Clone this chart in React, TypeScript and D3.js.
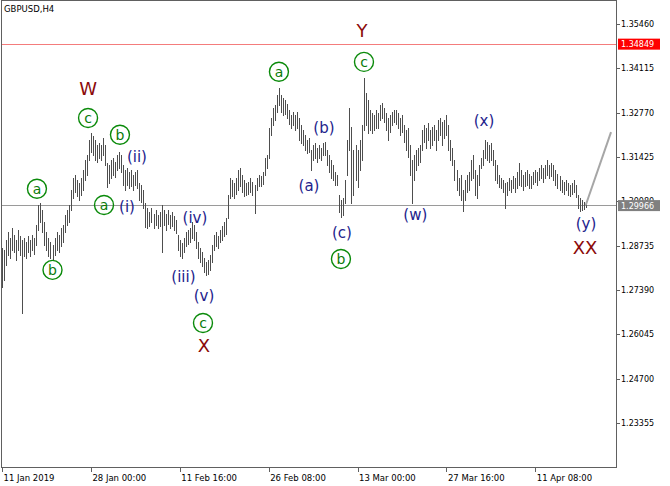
import React from "react";
import * as d3 from "d3";

// GBPUSD H4 bar highs / lows (one entry per bar, in chart order)
const highs = [
  1.2867,1.2860,1.2891,1.2915,1.2897,1.2927,1.2906,1.2891,1.2921,1.2903,
  1.2891,1.2897,1.2885,1.2903,1.2891,1.2906,1.2897,1.2936,1.2997,1.3003,
  1.2982,1.2945,1.2915,1.2897,1.2885,1.2876,1.2897,1.2915,1.2906,1.2927,
  1.2936,1.2967,1.2982,1.2997,1.3043,1.3079,1.3088,1.3073,1.3064,1.3079,
  1.3103,1.3134,1.3149,1.3194,1.3216,1.3206,1.3194,1.3179,1.3185,1.3179,
  1.3200,1.3179,1.3124,1.3118,1.3134,1.3140,1.3128,1.3149,1.3158,1.3149,
  1.3118,1.3103,1.3109,1.3097,1.3103,1.3088,1.3097,1.3103,1.3064,1.3058,
  1.3043,1.3003,1.2988,1.2976,1.2988,1.2970,1.2982,1.2967,1.2976,1.2997,
  1.2982,1.2970,1.2982,1.2967,1.2976,1.2964,1.2952,1.2906,1.2891,1.2882,
  1.2897,1.2915,1.2921,1.2927,1.2945,1.2936,1.2915,1.2885,1.2867,1.2854,
  1.2836,1.2824,1.2830,1.2845,1.2876,1.2906,1.2915,1.2903,1.2921,1.2933,
  1.2945,1.2958,1.3027,1.3079,1.3073,1.3064,1.3079,1.3103,1.3109,1.3088,
  1.3073,1.3064,1.3067,1.3079,1.3067,1.3058,1.3079,1.3088,1.3085,1.3097,
  1.3140,1.3149,1.3231,1.3261,1.3291,1.3300,1.3331,1.3352,1.3331,1.3322,
  1.3316,1.3303,1.3285,1.3270,1.3279,1.3270,1.3279,1.3261,1.3240,1.3225,
  1.3209,1.3194,1.3200,1.3164,1.3179,1.3185,1.3170,1.3179,1.3170,1.3185,
  1.3188,1.3164,1.3149,1.3134,1.3118,1.3097,1.3088,1.3027,1.3012,1.3018,
  1.3073,1.3194,1.3291,1.3234,1.3164,1.3179,1.3164,1.3194,1.3240,1.3382,
  1.3337,1.3316,1.3285,1.3276,1.3270,1.3285,1.3276,1.3300,1.3306,1.3291,
  1.3276,1.3261,1.3270,1.3279,1.3285,1.3285,1.3276,1.3261,1.3270,1.3240,
  1.3225,1.3231,1.3179,1.3134,1.3149,1.3164,1.3170,1.3179,1.3225,1.3240,
  1.3231,1.3246,1.3225,1.3234,1.3240,1.3225,1.3255,1.3261,1.3249,1.3255,
  1.3270,1.3240,1.3194,1.3170,1.3134,1.3103,1.3079,1.3088,1.3043,1.3073,
  1.3088,1.3097,1.3134,1.3149,1.3103,1.3088,1.3118,1.3140,1.3164,1.3194,
  1.3188,1.3179,1.3185,1.3164,1.3134,1.3118,1.3088,1.3079,1.3073,1.3064,
  1.3067,1.3079,1.3073,1.3085,1.3079,1.3097,1.3124,1.3103,1.3088,1.3097,
  1.3103,1.3091,1.3085,1.3097,1.3103,1.3097,1.3109,1.3118,1.3109,1.3118,
  1.3134,1.3118,1.3124,1.3118,1.3103,1.3091,1.3085,1.3073,1.3067,1.3073,
  1.3064,1.3058,1.3064,1.3073,1.3058,1.3027,1.3018,1.3012,1.3006,1.3003,
];
const lows = [
  1.2748,1.2770,1.2815,1.2845,1.2836,1.2860,1.2854,1.2830,1.2860,1.2845,
  1.2669,1.2842,1.2836,1.2854,1.2842,1.2860,1.2848,1.2876,1.2921,1.2945,
  1.2915,1.2876,1.2860,1.2842,1.2836,1.2830,1.2845,1.2860,1.2854,1.2873,
  1.2885,1.2915,1.2936,1.2945,1.2982,1.3018,1.3037,1.3024,1.3012,1.3027,
  1.3043,1.3073,1.3088,1.3134,1.3158,1.3149,1.3134,1.3128,1.3140,1.3134,
  1.3149,1.3118,1.3052,1.3064,1.3079,1.3088,1.3082,1.3103,1.3109,1.3097,
  1.3058,1.3043,1.3058,1.3049,1.3055,1.3043,1.3058,1.3049,1.3012,1.3006,
  1.2988,1.2930,1.2927,1.2933,1.2945,1.2927,1.2936,1.2927,1.2933,1.2854,
  1.2936,1.2921,1.2939,1.2927,1.2933,1.2921,1.2912,1.2860,1.2842,1.2836,
  1.2854,1.2873,1.2879,1.2885,1.2897,1.2891,1.2867,1.2836,1.2824,1.2812,
  1.2794,1.2785,1.2788,1.2800,1.2824,1.2860,1.2873,1.2867,1.2885,1.2891,
  1.2903,1.2909,1.2958,1.3018,1.3024,1.3018,1.3030,1.3043,1.3055,1.3037,
  1.3024,1.3027,1.3030,1.3037,1.3027,1.2973,1.3043,1.3055,1.3055,1.3061,
  1.3088,1.3109,1.3140,1.3209,1.3240,1.3255,1.3279,1.3300,1.3279,1.3270,
  1.3273,1.3261,1.3243,1.3231,1.3240,1.3225,1.3231,1.3194,1.3185,1.3179,
  1.3164,1.3155,1.3158,1.3103,1.3134,1.3140,1.3128,1.3140,1.3134,1.3149,
  1.3149,1.3118,1.3097,1.3079,1.3073,1.3058,1.3058,1.2976,1.2961,1.2967,
  1.3003,1.3088,1.3164,1.3003,1.3027,1.3073,1.3052,1.3103,1.3134,1.3225,
  1.3240,1.3216,1.3225,1.3216,1.3225,1.3231,1.3231,1.3255,1.3261,1.3249,
  1.3225,1.3194,1.3219,1.3240,1.3249,1.3243,1.3231,1.3209,1.3219,1.3188,
  1.3164,1.3143,1.3088,1.3003,1.3073,1.3103,1.3118,1.3128,1.3164,1.3188,
  1.3170,1.3194,1.3170,1.3179,1.3194,1.3164,1.3194,1.3209,1.3179,1.3200,
  1.3209,1.3164,1.3134,1.3118,1.3073,1.3043,1.3027,1.3012,1.2979,1.3012,
  1.3037,1.3043,1.3073,1.3079,1.3027,1.3018,1.3058,1.3109,1.3118,1.3140,
  1.3134,1.3128,1.3134,1.3118,1.3073,1.3064,1.3052,1.3049,1.3037,1.2988,
  1.3027,1.3043,1.3037,1.3049,1.3037,1.3049,1.3058,1.3055,1.3043,1.3055,
  1.3058,1.3049,1.3049,1.3061,1.3067,1.3058,1.3073,1.3079,1.3067,1.3079,
  1.3088,1.3079,1.3085,1.3073,1.3058,1.3049,1.3043,1.3037,1.3030,1.3043,
  1.3027,1.3024,1.3030,1.3037,1.3021,1.2988,1.2979,1.2982,1.2985,1.2991,
];

const timeTickIndex = [0, 44, 88, 132, 176, 220, 264];
const timeTickLabels = ["11 Jan 2019", "28 Jan 00:00", "11 Feb 16:00", "26 Feb 08:00", "13 Mar 00:00", "27 Mar 16:00", "11 Apr 08:00"];
const priceTicks = [1.3546, 1.34115, 1.3277, 1.31425, 1.3008, 1.28735, 1.2739, 1.26045, 1.247, 1.23355];
const resistanceLevel = 1.34849;
const lastPrice = 1.29966;
const projectionIndex = [289, 301.5];
const projectionPrice = [1.2997, 1.3218];

// Elliott wave labels: [text, bar index, price]
const majorLabels: [string, number, number][] = [
  ["Y", 178.2, 1.3525], ["W", 42.6, 1.3349], ["X", 100, 1.2572], ["XX", 288.6, 1.2867],
];
const circledLabels: [string, number, number][] = [
  ["a", 17.3, 1.3046], ["b", 25.0, 1.2800], ["c", 42.6, 1.3261], ["b", 58.4, 1.3210],
  ["a", 50.5, 1.2997], ["c", 99.5, 1.2639], ["a", 137.1, 1.3401], ["c", 179.2, 1.3431], ["b", 167.8, 1.2833],
];
const minorLabels: [string, number, number][] = [
  ["(ii)", 66.8, 1.3143], ["(i)", 61.9, 1.2991], ["(iv)", 95.5, 1.2958], ["(iii)", 89.8, 1.2781],
  ["(v)", 100, 1.2721], ["(a)", 152, 1.3055], ["(b)", 159.4, 1.3231], ["(c)", 168.3, 1.2912],
  ["(w)", 204.6, 1.2967], ["(x)", 238.6, 1.3252], ["(y)", 289.1, 1.2939],
];

export default function App() {
  const W = 670, H = 486;
  const left = 1, right = 616, top = 0, bottom = 467;
  const x = d3.scaleLinear().domain([0, 300]).range([2, 608]);
  const y = d3.scaleLinear().domain([1.2202, 1.36158]).range([bottom, 1]);
  const axisFont = "'DejaVu Sans', Verdana, sans-serif";
  const px = (v: number) => Math.round(v) + 0.5;
  const projLine = d3.line<number>()
    .x((_, k) => x(projectionIndex[k]))
    .y((p) => y(p))(projectionPrice);

  return (
    <svg width={W} height={H} style={{ position: "absolute", left: 0, top: 0, background: "#fff" }}>
      <rect x={0} y={0} width={W} height={H} fill="#fff" />
      {/* level lines */}
      <line x1={left} x2={right} y1={px(y(resistanceLevel))} y2={px(y(resistanceLevel))} stroke="#f47c7c" strokeWidth={1} shapeRendering="crispEdges" />
      <line x1={left} x2={right} y1={px(y(lastPrice))} y2={px(y(lastPrice))} stroke="#9a9a9a" strokeWidth={1} shapeRendering="crispEdges" />
      {/* bars */}
      <g stroke="#4e4e4e" strokeWidth={1} shapeRendering="crispEdges">
        {highs.map((h, i) => (
          <line key={i} x1={px(x(i))} x2={px(x(i))} y1={Math.round(y(h))} y2={Math.round(y(lows[i])) + 1} />
        ))}
      </g>
      {projLine && <path d={projLine} stroke="#a6a6a6" strokeWidth={2} fill="none" />}
      {/* frame */}
      <rect x={left + 0.5} y={top + 0.5} width={right - left} height={bottom - top} fill="none" stroke="#606060" shapeRendering="crispEdges" />
      <text x={4} y={12} fontFamily={axisFont} fontSize={8.5} fill="#000">GBPUSD,H4</text>
      {/* price axis */}
      {priceTicks.map((p) => (
        <g key={p}>
          <line x1={right} x2={right + 4} y1={px(y(p))} y2={px(y(p))} stroke="#606060" shapeRendering="crispEdges" />
          <text x={right + 5} y={y(p) + 3} fontFamily={axisFont} fontSize={8} fill="#000">{p.toFixed(5)}</text>
        </g>
      ))}
      <rect x={right + 2} y={y(resistanceLevel) - 5.5} width={42} height={11} fill="#ff0000" />
      <text x={right + 5} y={y(resistanceLevel) + 3} fontFamily={axisFont} fontSize={8} fill="#fff">{resistanceLevel.toFixed(5)}</text>
      <rect x={right + 2} y={y(lastPrice) - 5} width={42} height={11} fill="#808080" />
      <text x={right + 5} y={y(lastPrice) + 3.5} fontFamily={axisFont} fontSize={8} fill="#fff">{lastPrice.toFixed(5)}</text>
      {/* time axis */}
      {timeTickIndex.map((ti, k) => (
        <g key={ti}>
          <line x1={px(x(ti))} x2={px(x(ti))} y1={bottom} y2={bottom + 5} stroke="#606060" shapeRendering="crispEdges" />
          <text x={x(ti) + 1.5} y={481} fontFamily={axisFont} fontSize={8.5} fill="#000">{timeTickLabels[k]}</text>
        </g>
      ))}
      {/* wave labels */}
      {majorLabels.map(([t, i, p], k) => (
        <text key={"M" + k} x={x(i)} y={y(p)} dy="0.36em" textAnchor="middle" fontFamily={axisFont} fontSize={18} fill="#8b0a0a">{t}</text>
      ))}
      {circledLabels.map(([t, i, p], k) => (
        <g key={"C" + k}>
          <circle cx={x(i)} cy={y(p)} r={9.5} fill="none" stroke="#0a8a0a" strokeWidth={1.4} />
          <text x={x(i)} y={y(p)} dy="0.36em" textAnchor="middle" fontFamily={axisFont} fontSize={14} fill="#0a7a0a">{t}</text>
        </g>
      ))}
      {minorLabels.map(([t, i, p], k) => (
        <text key={"m" + k} x={x(i)} y={y(p)} dy="0.36em" textAnchor="middle" fontFamily={axisFont} fontSize={15} fill="#23238c">{t}</text>
      ))}
    </svg>
  );
}
